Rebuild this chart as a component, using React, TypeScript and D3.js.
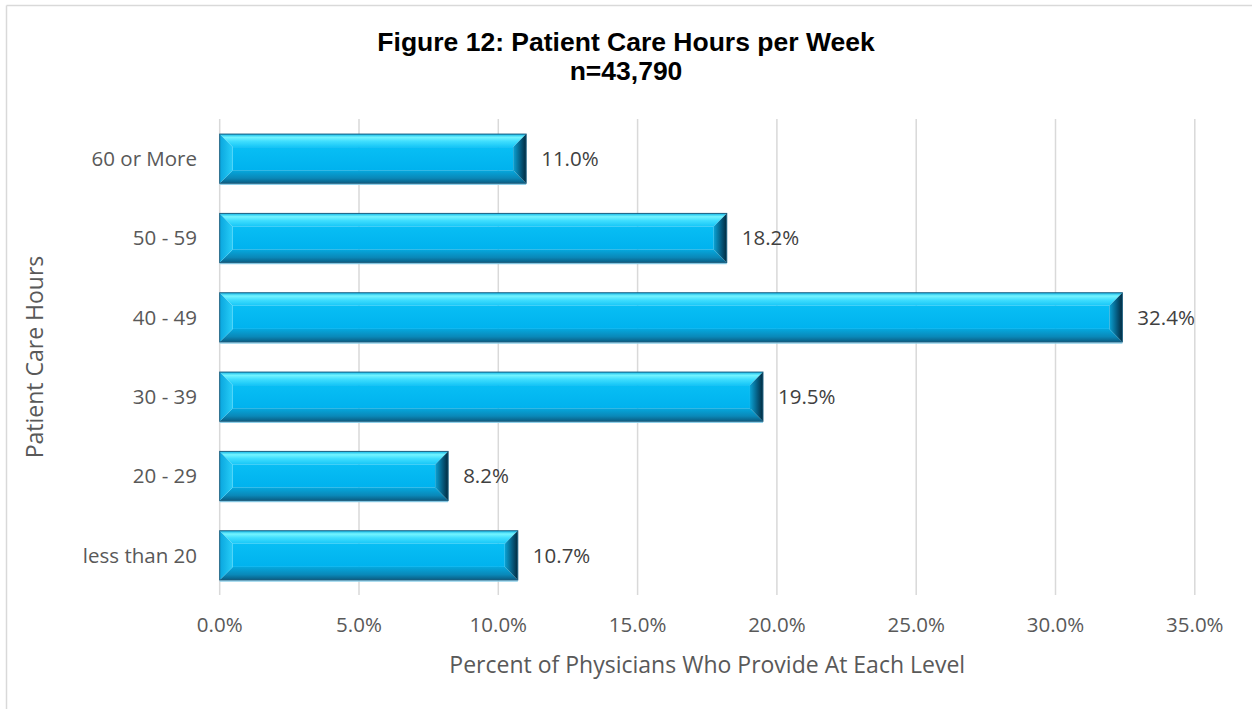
import React from "react";
import * as d3 from "d3";

const categories = ["60 or More", "50 - 59", "40 - 49", "30 - 39", "20 - 29", "less than 20"];
const values = [11.0, 18.2, 32.4, 19.5, 8.2, 10.7];
const xTicks = [0, 5, 10, 15, 20, 25, 30, 35];
const titleLines = ["Figure 12: Patient Care Hours per Week", "n=43,790"];
const xTitle = "Percent of Physicians Who Provide At Each Level";
const yTitle = "Patient Care Hours";

const W = 1252;
const H = 709;
const FONT = "'Open Sans', 'Noto Sans', sans-serif";

export default function App() {
  const x = d3.scaleLinear().domain([0, 35]).range([219.7, 1194.8]);
  const y = d3
    .scaleBand<string>()
    .domain(categories)
    .range([119, 595])
    .paddingInner(0.38)
    .paddingOuter(0.19);
  const fmt = (v: number) => v.toFixed(1) + "%";

  return (
    <svg
      width={W}
      height={H}
      style={{ position: "absolute", left: 0, top: 0, background: "#fff" }}
    >
      <defs>
        <linearGradient id="gTop" x1="0" y1="0" x2="0" y2="1">
          <stop offset="0" stopColor="#10b4e6" />
          <stop offset="0.25" stopColor="#74f4ff" />
          <stop offset="0.55" stopColor="#40defe" />
          <stop offset="1" stopColor="#16c6f7" />
        </linearGradient>
        <linearGradient id="gLeft" x1="0" y1="0" x2="1" y2="0">
          <stop offset="0" stopColor="#0aa6de" />
          <stop offset="1" stopColor="#26cdf8" />
        </linearGradient>
        <linearGradient id="gMid" x1="0" y1="0" x2="0" y2="1">
          <stop offset="0" stopColor="#08bef4" />
          <stop offset="1" stopColor="#00b2ee" />
        </linearGradient>
        <linearGradient id="gBot" x1="0" y1="0" x2="0" y2="1">
          <stop offset="0" stopColor="#05a8de" />
          <stop offset="0.6" stopColor="#0a88b8" />
          <stop offset="1" stopColor="#0b5c82" />
        </linearGradient>
        <linearGradient id="gRight" x1="0" y1="0" x2="1" y2="0">
          <stop offset="0" stopColor="#0aa2d4" />
          <stop offset="0.6" stopColor="#05587c" />
          <stop offset="1" stopColor="#022a3e" />
        </linearGradient>
      </defs>

      {/* frame */}
      <line x1={6.5} y1={5.5} x2={W} y2={5.5} stroke="#d9d9d9" strokeWidth={1.5} />
      <line x1={6.5} y1={5.5} x2={6.5} y2={H} stroke="#d9d9d9" strokeWidth={1.5} />

      {/* title */}
      <text
        x={626}
        textAnchor="middle"
        fontFamily="'Liberation Sans', Arial, sans-serif"
        fontWeight="bold"
        fontSize={26.5}
        fill="#000"
      >
        <tspan x={626} y={51}>{titleLines[0]}</tspan>
        <tspan x={626} y={80}>{titleLines[1]}</tspan>
      </text>

      {/* gridlines */}
      {xTicks.map((t) => (
        <line
          key={"g" + t}
          x1={x(t)}
          x2={x(t)}
          y1={119}
          y2={595}
          stroke="#d9d9d9"
          strokeWidth={1.5}
        />
      ))}

      {/* tick labels */}
      {xTicks.map((t) => (
        <text
          key={"t" + t}
          x={x(t)}
          y={632}
          textAnchor="middle"
          fontFamily={FONT}
          fontSize={20.5}
          fill="#595959"
        >
          {fmt(t)}
        </text>
      ))}

      {/* bars */}
      {categories.map((c, i) => {
        const x0 = x(0);
        const x1 = x(values[i]);
        const y0 = y(c)!;
        const y1 = y0 + y.bandwidth();
        const b = 13;
        const p = (pts: number[][]) => pts.map((q) => q.join(",")).join(" ");
        return (
          <g key={c}>
            <line x1={x0} x2={x1} y1={y1 + 1} y2={y1 + 1} stroke="#8fd0ea" strokeWidth={1.5} />
            <rect x={x0 + b} y={y0 + b} width={Math.max(0, x1 - x0 - 2 * b)} height={y1 - y0 - 2 * b} fill="url(#gMid)" />
            <polygon points={p([[x0, y0], [x1, y0], [x1 - b, y0 + b], [x0 + b, y0 + b]])} fill="url(#gTop)" />
            <polygon points={p([[x0, y1], [x1, y1], [x1 - b, y1 - b], [x0 + b, y1 - b]])} fill="url(#gBot)" />
            <polygon points={p([[x0, y0], [x0 + b, y0 + b], [x0 + b, y1 - b], [x0, y1]])} fill="url(#gLeft)" />
            <polygon points={p([[x1, y0], [x1 - b, y0 + b], [x1 - b, y1 - b], [x1, y1]])} fill="url(#gRight)" />
            <rect x={x0} y={y0} width={x1 - x0} height={y1 - y0} fill="none" stroke="#1b5f80" strokeWidth={1} />
            <text
              x={x1 + 15}
              y={(y0 + y1) / 2}
              dy="0.35em"
              fontFamily={FONT}
              fontSize={20.5}
              fill="#404040"
            >
              {fmt(values[i])}
            </text>
            <text
              x={197}
              y={(y0 + y1) / 2}
              dy="0.35em"
              textAnchor="end"
              fontFamily={FONT}
              fontSize={20.5}
              fill="#595959"
            >
              {c}
            </text>
          </g>
        );
      })}

      {/* axis titles */}
      <text
        x={(x(0) + x(35)) / 2}
        y={673}
        textAnchor="middle"
        fontFamily={FONT}
        fontSize={23}
        fill="#595959"
      >
        {xTitle}
      </text>
      <text
        transform={`translate(43,357) rotate(-90)`}
        textAnchor="middle"
        fontFamily={FONT}
        fontSize={23}
        fill="#595959"
      >
        {yTitle}
      </text>
    </svg>
  );
}
